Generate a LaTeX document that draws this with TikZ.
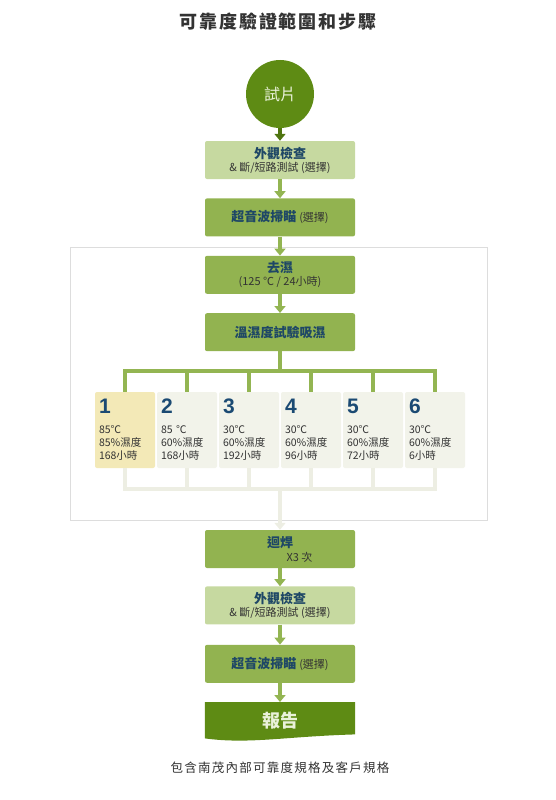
\documentclass[tikz,border=0pt]{standalone}
\usepackage{fontspec}
\setmainfont{Noto Sans CJK TC}
\newfontfamily\spacedfont{Noto Sans CJK TC}[LetterSpace=10]
\newfontfamily\numfont{Liberation Sans}
\usetikzlibrary{arrows.meta, positioning, calc, backgrounds}
\definecolor{darkolive}{HTML}{5E8B14}
\definecolor{lightgreen}{HTML}{C6D9A0}
\definecolor{midgreen}{HTML}{92B350}
\definecolor{arrowgreen}{HTML}{93B552}
\definecolor{darkarrow}{HTML}{4F7510}
\definecolor{boxblue}{HTML}{1E4766}
\definecolor{numblue}{HTML}{1B4A73}
\definecolor{textgray}{HTML}{333333}
\definecolor{palegreen}{HTML}{EAF2DA}
\definecolor{tilefill}{HTML}{F2F3EA}
\definecolor{tileyellow}{HTML}{F3E9B7}
\definecolor{faintline}{HTML}{EDEEE3}
\definecolor{framegray}{HTML}{DDDDDD}
\newcommand{\subtext}[1]{{\normalfont\fontsize{11}{13}\selectfont\color{textgray}#1}}
\tikzset{
    box/.style = {rectangle, rounded corners=2pt, minimum width=150pt, minimum height=38pt, inner sep=2pt, align=center, text=boxblue, font=\bfseries\fontsize{13}{15}\selectfont},
    lightbox/.style = {box, fill=lightgreen},
    midbox/.style = {box, fill=midgreen},
    tile/.style = {rectangle, rounded corners=2pt, fill=tilefill, minimum width=60pt, minimum height=76pt, text width=52pt, inner xsep=4pt, inner ysep=3pt, align=left, text=textgray, font=\fontsize{10.5}{13}\selectfont},
    flow/.style = {draw=arrowgreen, line width=4pt, -{Triangle[width=11pt,length=7pt]}},
    branch/.style = {draw=arrowgreen, line width=4pt},
    faint/.style = {draw=faintline, line width=4pt},
    container/.style = {draw=framegray, fill=white, line width=0.8pt}
}

\begin{document}
\begin{tikzpicture}[x=1pt, y=1pt]
        \useasboundingbox (0,0) rectangle (555,-800);
        % Title
        \node [text=textgray, font=\spacedfont\bfseries\fontsize{18}{20}\selectfont] (title) at (278,-22) {可靠度驗證範圍和步驟};

        % Start
        \node [circle, fill=darkolive, minimum size=68pt, text=palegreen, font=\fontsize{16}{18}\selectfont] (sample) at (280,-94) {試片};

        % Main Flow (top)
        \node [lightbox] (inspect) at (280,-160) {外觀檢查\\[-2pt]\subtext{\& 斷/短路測試 (選擇)}};
        \node [midbox, below=19pt of inspect] (scan) {超音波掃瞄 \subtext{(選擇)}};
        \node [midbox, below=19pt of scan] (bake) {去濕\\[-2pt]\subtext{(125 ℃ / 24小時)}};
        \node [midbox, below=19pt of bake] (soak) {溫濕度試驗吸濕};

        % Soak conditions
        \foreach \i/\shade/\temp/\rh/\hrs in {1/tileyellow/85℃/85/168, 2/tilefill/85 ℃/60/168, 3/tilefill/30℃/60/192, 4/tilefill/30℃/60/96, 5/tilefill/30℃/60/72, 6/tilefill/30℃/60/6}
            \node [tile, fill=\shade] (t\i) at ({125+62*(\i-1)},-430) {{\numfont\bfseries\fontsize{21}{22}\selectfont\color{numblue}\i}\\[7pt]\temp\\\rh\%濕度\\\hrs 小時\\[2pt]};

        % Main Flow (bottom)
        \node [midbox] (reflow) at (280,-549) {迴焊\\[-1pt]\hspace*{3em}\subtext{X3 次}};
        \node [lightbox, below=18pt of reflow] (inspect2) {外觀檢查\\[-2pt]\subtext{\& 斷/短路測試 (選擇)}};
        \node [midbox, below=20pt of inspect2] (scan2) {超音波掃瞄 \subtext{(選擇)}};
        \node [box, rounded corners=0pt, minimum height=36pt, below=19pt of scan2, text=palegreen, font=\bfseries\fontsize{18}{20}\selectfont] (report) {報告};

        % Footer
        \node [text=textgray, font=\spacedfont\fontsize{12.5}{14}\selectfont] (note) at (280,-768) {包含南茂內部可靠度規格及客戶規格};

        % Background frame & report shape
        \begin{scope}[on background layer]
            \draw [container] (70,-247) rectangle (487,-520);
            \fill [darkolive] (report.north west) -- (report.north east) -- ($(report.south east)+(0,4)$)
                .. controls +(-70,-2) and +(45,-6) .. ($(report.south west)+(0,0)$) -- cycle;
        \end{scope}

        % Edges Main
        \draw [flow, draw=darkarrow] (sample) -- (inspect);
        \draw [flow] (inspect) -- (scan);
        \draw [flow] (scan) -- (bake);
        \draw [flow] (bake) -- (soak);
        \draw [flow] (reflow) -- (inspect2);
        \draw [flow] (inspect2) -- (scan2);
        \draw [flow] (scan2) -- (report);

        % Branches to the conditions
        \coordinate (bar) at ($(soak.south)+(0,-20)$);
        \draw [branch] (soak.south) -- (bar);
        \draw [branch] (t1.north) |- (bar) -| (t6.north);
        \foreach \i in {2,...,5}
            \draw [branch] (bar -| t\i.north) -- (t\i.north);

        % Faint merge back
        \coordinate (fbar) at ($(t1.south)+(0,-21)$);
        \draw [faint] (t1.south) |- (fbar) -| (t6.south);
        \foreach \i in {2,...,5}
            \draw [faint] (t\i.south) -- (t\i.south |- fbar);
        \draw [faint, -{Triangle[width=11pt,length=7pt]}] (fbar -| reflow.north) -- (reflow.north);

    \end{tikzpicture}
\end{document}
